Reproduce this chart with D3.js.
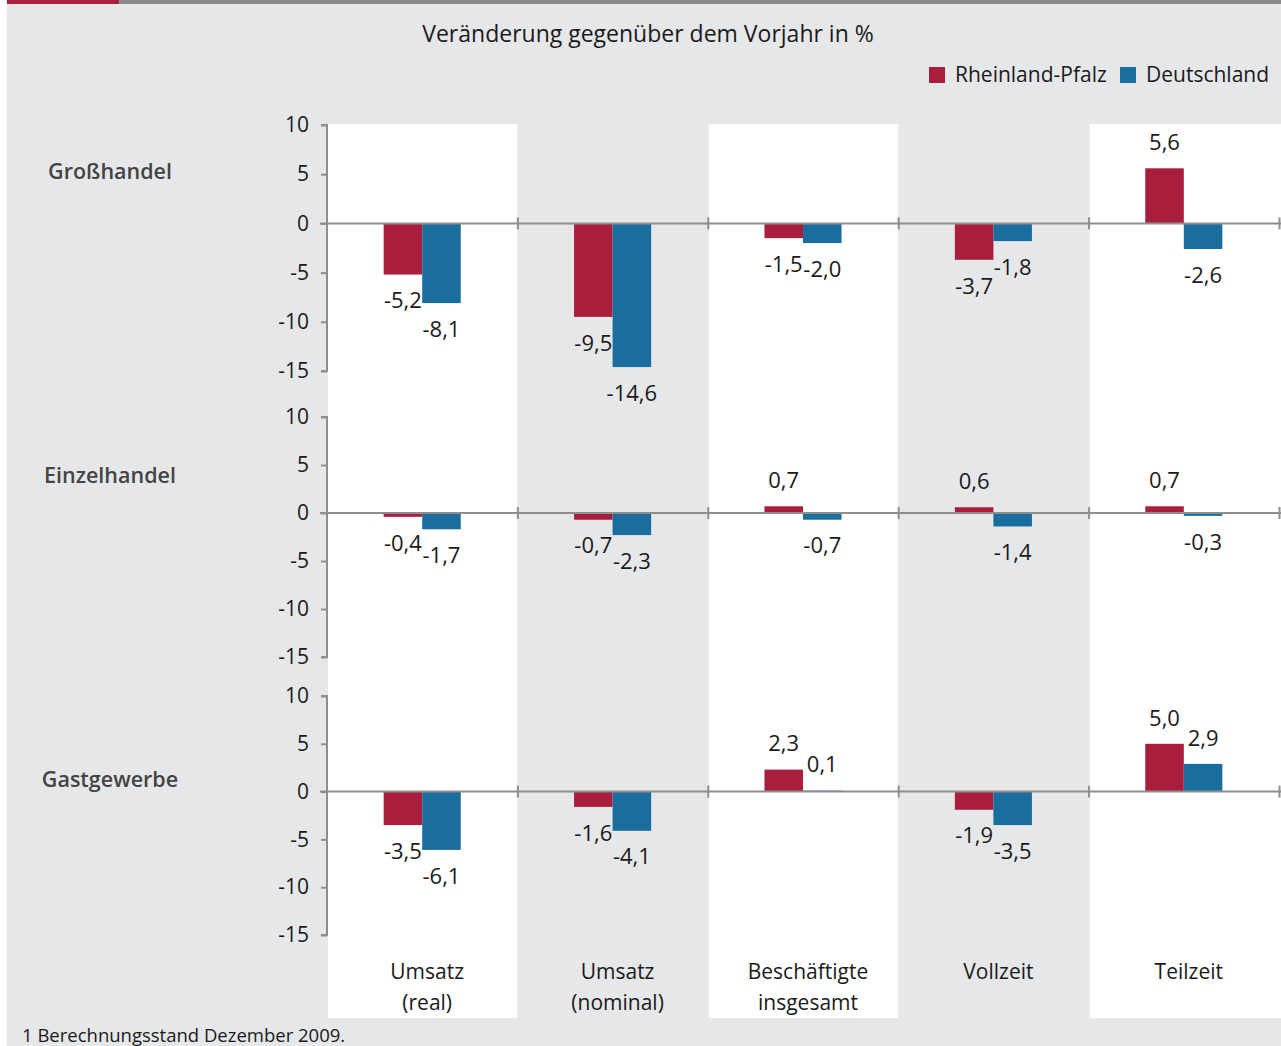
<!DOCTYPE html>
<html>
<head>
<meta charset="utf-8">
<title>Veränderung gegenüber dem Vorjahr</title>
<script src="https://d3js.org/d3.v7.min.js"></script>
<style>
  body { margin: 0; background: #fff; }
  text { font-family: "Open Sans", "Noto Sans", sans-serif; }
</style>
</head>
<body>
<script>
// data
var categories = [["Umsatz", "(real)"], ["Umsatz", "(nominal)"], ["Beschäftigte", "insgesamt"], ["Vollzeit"], ["Teilzeit"]];
var sectors = ["Großhandel", "Einzelhandel", "Gastgewerbe"];
var series = ["Rheinland-Pfalz", "Deutschland"];
var rlp = [
  [-5.2, -9.5, -1.5, -3.7, 5.6],
  [-0.4, -0.7, 0.7, 0.6, 0.7],
  [-3.5, -1.6, 2.3, -1.9, 5.0]
];
var de = [
  [-8.1, -14.6, -2.0, -1.8, -2.6],
  [-1.7, -2.3, -0.7, -1.4, -0.3],
  [-6.1, -4.1, 0.1, -3.5, 2.9]
];
var yTicks = [10, 5, 0, -5, -10, -15];

var colors = ["#aa1e3d", "#1a6e9e"];
var axisColor = "#8e8e90";

var W = 1281, H = 1046;
var svg = d3.select("body").append("svg").attr("width", W).attr("height", H);

// background + top strip
svg.append("rect").attr("x", 7).attr("y", 0).attr("width", W - 7).attr("height", H).attr("fill", "#e6e7e9");
svg.append("rect").attr("x", 7).attr("y", 0).attr("width", 112).attr("height", 4).attr("fill", "#aa1e3d");
svg.append("rect").attr("x", 119).attr("y", 0).attr("width", W - 119).attr("height", 4).attr("fill", "#8b8b8d");

var catIdx = d3.range(categories.length);
var x0 = d3.scaleBand().domain(catIdx).range([327, 1279]);
var x1 = d3.scaleBand().domain(series).range([0, x0.bandwidth()]).paddingOuter(1.47);

// white columns
svg.selectAll("rect.col").data(catIdx.filter(function(i) { return i % 2 == 0; }))
  .enter().append("rect").attr("class", "col")
  .attr("x", function(i) { return x0(i) + 1; })
  .attr("y", 124)
  .attr("width", function(i) { return i == 4 ? W - x0(i) : x0.bandwidth() - 1; })
  .attr("height", 1018 - 124)
  .attr("fill", "#fff");

// title
svg.append("text").attr("x", 648).attr("y", 42).attr("text-anchor", "middle")
  .style("font-size", "23px").attr("fill", "#1a1a1a")
  .text("Veränderung gegenüber dem Vorjahr in %");

// legend
var legX = [929, 1120];
series.forEach(function(s, i) {
  svg.append("rect").attr("x", legX[i]).attr("y", 67).attr("width", 16).attr("height", 16).attr("fill", colors[i]);
  svg.append("text").attr("x", legX[i] + 26).attr("y", 82).style("font-size", "21px").attr("fill", "#1a1a1a").text(s);
});

var de_locale = d3.formatLocale({ decimal: ",", thousands: ".", grouping: [3], currency: ["", " €"], minus: "-" });
var fmt = de_locale.format(".1f");

var panels = [
  { top: 125, bottom: 371, label: 179 },
  { top: 417, bottom: 657, label: 483 },
  { top: 696, bottom: 935, label: 787 }
];

sectors.forEach(function(sec, p) {
  var y = d3.scaleLinear().domain([-15, 10]).range([panels[p].bottom, panels[p].top]);
  var g = svg.append("g");

  // sector label
  g.append("text").attr("x", 110).attr("y", panels[p].label).attr("text-anchor", "middle")
    .style("font-size", "21.5px").style("font-weight", 600).attr("fill", "#444")
    .text(sec);

  // y axis
  var yAxis = d3.axisLeft(y).tickValues(yTicks).tickSize(6).tickPadding(12).tickFormat(de_locale.format("d"));
  var ga = g.append("g").attr("transform", "translate(327,0)").call(yAxis);
  ga.select(".domain").attr("stroke", axisColor).attr("stroke-width", 2).attr("d", "M-6," + y(10) + "H0V" + y(-15) + "H-6");
  ga.selectAll(".tick line").attr("stroke", axisColor).attr("stroke-width", 2);
  ga.selectAll(".tick text").style("font-size", "21px").attr("fill", "#1a1a1a").style("font-family", '"Open Sans", sans-serif');

  // bars
  var rows = catIdx.map(function(i) { return [rlp[p][i], de[p][i]]; });
  var cg = g.selectAll("g.cat").data(rows).enter().append("g")
    .attr("transform", function(d, i) { return "translate(" + x0(i) + ",0)"; });
  cg.selectAll("rect").data(function(d) { return d; }).enter().append("rect")
    .attr("x", function(d, j) { return x1(series[j]); })
    .attr("y", function(d) { return y(Math.max(0, d)); })
    .attr("width", x1.bandwidth())
    .attr("height", function(d) { return Math.abs(y(d) - y(0)); })
    .attr("fill", function(d, j) { return colors[j]; });
  cg.selectAll("text").data(function(d) { return d; }).enter().append("text")
    .attr("x", function(d, j) { return x1(series[j]) + x1.bandwidth() / 2; })
    .attr("y", function(d) { return d >= 0 ? y(d) - 26 : y(d) + 26; })
    .attr("dy", "0.35em")
    .attr("text-anchor", "middle")
    .style("font-size", "22px").attr("fill", "#1a1a1a")
    .text(function(d) { return fmt(d); });

  // zero line with category ticks
  var xAxis = d3.axisBottom(d3.scaleLinear().domain([327, 1279]).range([327, 1279]))
    .tickValues(catIdx.map(function(i) { return x0(i) + x0.bandwidth(); }))
    .tickSize(0).tickFormat("");
  var gx = g.append("g").attr("transform", "translate(0," + y(0) + ")").call(xAxis);
  gx.select(".domain").attr("stroke", axisColor).attr("stroke-width", 2).attr("d", "M320,0H1281");
  gx.selectAll(".tick line").attr("stroke", axisColor).attr("stroke-width", 2).attr("y1", -6).attr("y2", 6);
});

// category labels
var lab = svg.selectAll("text.cat").data(categories).enter().append("text").attr("class", "cat")
  .attr("text-anchor", "middle").style("font-size", "21px").attr("fill", "#1a1a1a");
lab.selectAll("tspan").data(function(d, i) { return d.map(function(t) { return { t: t, i: i }; }); })
  .enter().append("tspan")
  .attr("x", function(d) { return x0(d.i) + x0.bandwidth() / 2 + 5; })
  .attr("y", function(d, k) { return 979 + k * 31; })
  .text(function(d) { return d.t; });

// footnote
svg.append("text").attr("x", 22).attr("y", 1042).style("font-size", "18.5px").attr("fill", "#1a1a1a")
  .text("1 Berechnungsstand Dezember 2009.");
</script>
</body>
</html>
